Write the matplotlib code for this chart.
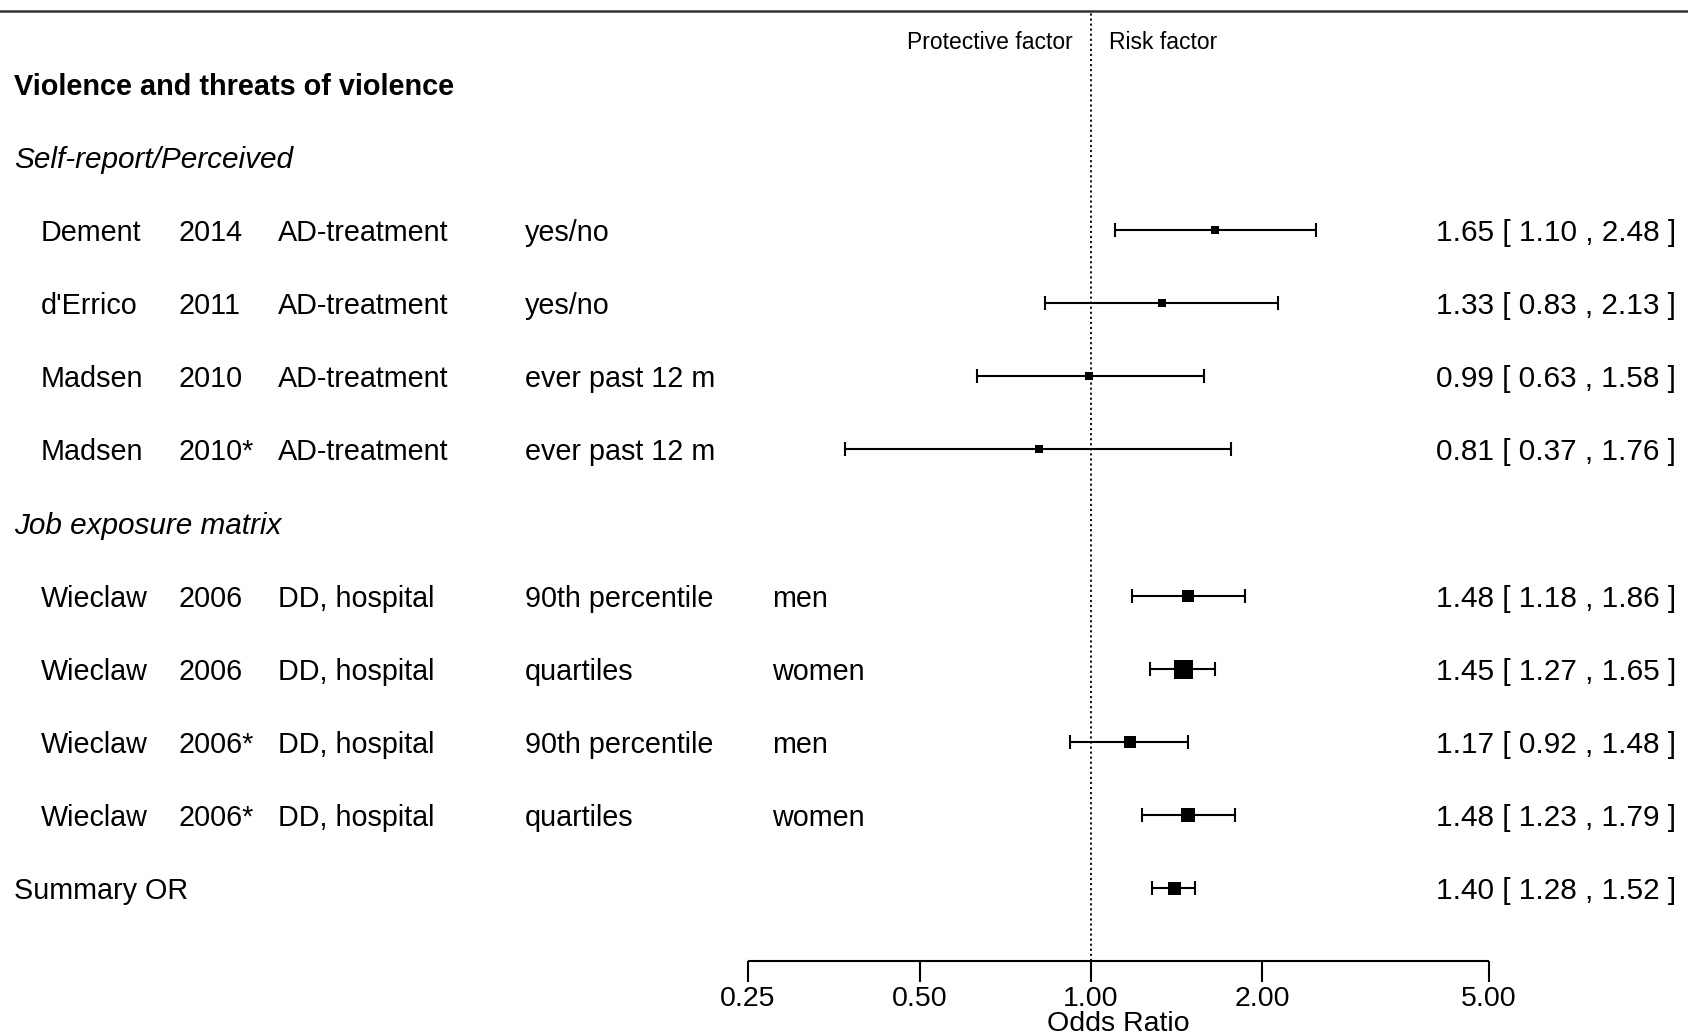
import numpy as np
import matplotlib
matplotlib.use("Agg")
import matplotlib.pyplot as plt
import matplotlib.transforms as mtransforms

plt.rcParams['font.family'] = ['Liberation Sans', 'DejaVu Sans']

# ---- data ----
title = "Violence and threats of violence"
group_labels = ["Self-report/Perceived", "Job exposure matrix"]
authors = ["Dement", "d'Errico", "Madsen", "Madsen", "Wieclaw", "Wieclaw", "Wieclaw", "Wieclaw"]
years = ["2014", "2011", "2010", "2010*", "2006", "2006", "2006*", "2006*"]
types = ["AD-treatment", "AD-treatment", "AD-treatment", "AD-treatment",
         "DD, hospital", "DD, hospital", "DD, hospital", "DD, hospital"]
measures = ["yes/no", "yes/no", "ever past 12 m", "ever past 12 m",
            "90th percentile", "quartiles", "90th percentile", "quartiles"]
sexes = ["", "", "", "", "men", "women", "men", "women"]
or_est = [1.65, 1.33, 0.99, 0.81, 1.48, 1.45, 1.17, 1.48]
ci_lo = [1.10, 0.83, 0.63, 0.37, 1.18, 1.27, 0.92, 1.23]
ci_hi = [2.48, 2.13, 1.58, 1.76, 1.86, 1.65, 1.48, 1.79]
summary_label = "Summary OR"
summary_est, summary_lo, summary_hi = 1.40, 1.28, 1.52
ticks = [0.25, 0.50, 1.00, 2.00, 5.00]

# ---- layout ----
W, H = 1688, 1036
fig = plt.figure(figsize=(W / 100, H / 100), dpi=100)
ax = fig.add_axes([0, 0, 1, 1])
ax.set_xscale('log')
ax.set_xlim(0.01215, 11.17)
ax.set_ylim(-2.025, 12.15)
ax.axis('off')
trans = mtransforms.blended_transform_factory(ax.transAxes, ax.transData)

rows = [9, 8, 7, 6, 4, 3, 2, 1]
fs = 20.7
fs_est = 21.4
fs_grp = 21.4
px_row = 73.1
cap = 7 / px_row

# weights from CIs (inverse variance) -> square size
lo = np.array(ci_lo); hi = np.array(ci_hi)
se = (np.log(hi) - np.log(lo)) / (2 * 1.96)
w = 1 / se**2
p = (w - w.min()) / (w.max() - w.min())
side_px = 8 + 11 * p

lw = 1.5
# top line
ax.axhline(12, color='#333333', lw=1.8)
# reference line
ax.vlines(1.0, -1, 12, colors='black', linestyles=(0, (1.2, 1.6)), lw=1.3)

ax.text(1073 / W, 11.6, "Protective factor", transform=trans, ha='right', va='center_baseline', fontsize=16.5)
ax.text(1109 / W, 11.6, "Risk factor", transform=trans, ha='left', va='center_baseline', fontsize=16.5)

ax.text(14 / W, 11, title, transform=trans, ha='left', va='center_baseline', fontsize=20.8, fontweight='bold')
ax.text(14 / W, 10, group_labels[0], transform=trans, ha='left', va='center_baseline', fontsize=fs_grp, style='italic')
ax.text(14 / W, 5, group_labels[1], transform=trans, ha='left', va='center_baseline', fontsize=fs_grp, style='italic')

cols_x = [41, 179, 278, 525, 772]
for i, r in enumerate(rows):
    for cx, val in zip(cols_x, [authors[i], years[i], types[i], measures[i], sexes[i]]):
        if val:
            ax.text(cx / W, r, val, transform=trans, ha='left', va='center_baseline', fontsize=fs)
    ax.text(1676 / W, r, f"{or_est[i]:.2f} [ {ci_lo[i]:.2f} , {ci_hi[i]:.2f} ]", transform=trans,
            ha='right', va='center_baseline', fontsize=fs_est)
    ax.hlines(r, ci_lo[i], ci_hi[i], colors='black', lw=lw)
    ax.vlines([ci_lo[i], ci_hi[i]], r - cap, r + cap, colors='black', lw=lw)
    ax.plot(or_est[i], r, marker='s', color='black', markersize=side_px[i] * 0.72, markeredgewidth=0)

# summary
ax.text(14 / W, 0, summary_label, transform=trans, ha='left', va='center_baseline', fontsize=fs)
ax.text(1676 / W, 0, f"{summary_est:.2f} [ {summary_lo:.2f} , {summary_hi:.2f} ]", transform=trans,
        ha='right', va='center_baseline', fontsize=fs_est)
ax.hlines(0, summary_lo, summary_hi, colors='black', lw=lw)
ax.vlines([summary_lo, summary_hi], -cap, cap, colors='black', lw=lw)
ax.plot(summary_est, 0, marker='s', color='black', markersize=13 * 0.72, markeredgewidth=0)

# x axis
ax.hlines(-1, ticks[0], ticks[-1], colors='black', lw=lw)
ax.vlines(ticks, -1, -1 - 21 / px_row, colors='black', lw=lw)
for t in ticks:
    ax.text(t, -1.48, f"{t:.2f}", ha='center', va='center_baseline', fontsize=20.5)
ax.text(np.sqrt(ticks[0] * ticks[-1]), -1.82, "Odds Ratio", ha='center', va='center_baseline', fontsize=20.5)

fig.savefig("out.png", dpi=100)
